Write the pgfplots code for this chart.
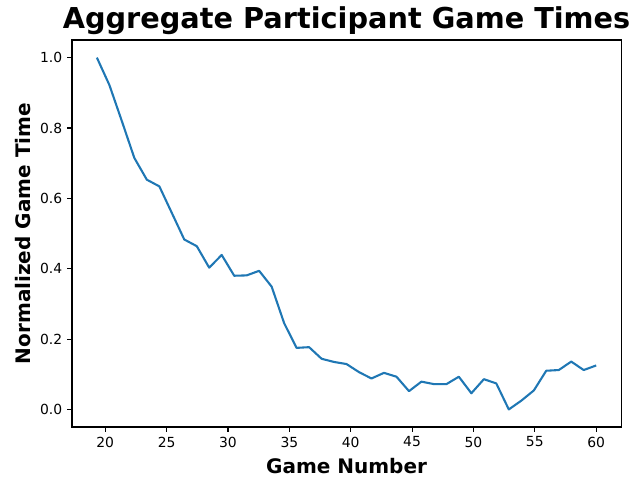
\documentclass[border=0pt]{standalone}
\usepackage{fontspec}
\setmainfont{DejaVu Sans}
\usepackage{pgfplots}
\pgfplotsset{compat=1.18}
\definecolor{mplblue}{HTML}{1F77B4}
\begin{document}
\begin{tikzpicture}
\begin{axis}[
  at={(0,0)}, anchor=south west,
  scale only axis,
  width=395.3pt, height=278.6pt,
  xmin=17.29, xmax=62.03,
  ymin=-0.05, ymax=1.05,
  xtick={20,25,30,35,40,45,50,55,60},
  ytick={0,0.2,0.4,0.6,0.8,1.0},
  /pgf/number format/assume math mode=true,
  yticklabel style={/pgf/number format/fixed,/pgf/number format/fixed zerofill,/pgf/number format/precision=1},
  tick label style={font=\fontsize{10}{12}\selectfont},
  tick align=outside,
  major tick length=3.5pt,
  tick style={line width=0.8pt, black},
  xtick pos=bottom, ytick pos=left,
  axis line style={line width=0.8pt},
  title={Aggregate Participant Game Times},
  title style={at={(axis description cs:0.5,1.009)}, anchor=base, font=\fontsize{20.7}{24}\selectfont\bfseries},
  xlabel={Game Number},
  xlabel style={at={(axis description cs:0.5,-0.1213)}, anchor=base, font=\fontsize{14.4}{17}\selectfont\bfseries},
  ylabel={Normalized Game Time},
  ylabel style={at={(axis description cs:-0.0764,0.5)}, anchor=base, font=\fontsize{14.4}{17}\selectfont\bfseries},
]
\addplot[color=mplblue, line width=1.5pt, mark=none, line join=round] coordinates {
(19.32,1.000) (20.34,0.922) (21.35,0.820) (22.37,0.715) (23.39,0.653)
(24.41,0.634) (25.42,0.559) (26.44,0.483) (27.46,0.464) (28.47,0.403)
(29.49,0.439) (30.51,0.380) (31.52,0.381) (32.54,0.394) (33.56,0.349)
(34.58,0.245) (35.59,0.175) (36.61,0.177) (37.63,0.144) (38.64,0.135)
(39.66,0.129) (40.68,0.106) (41.69,0.088) (42.71,0.104) (43.73,0.093)
(44.75,0.052) (45.76,0.079) (46.78,0.072) (47.80,0.072) (48.81,0.093)
(49.83,0.046) (50.85,0.086) (51.86,0.074) (52.88,0.000) (53.90,0.025)
(54.92,0.054) (55.93,0.110) (56.95,0.112) (57.97,0.136) (58.98,0.112)
(60.00,0.125)
};
\end{axis}
\pgfresetboundingbox
\path (-51.8pt,-37.4pt) rectangle (405.3pt,307.4pt);
\end{tikzpicture}
\end{document}
